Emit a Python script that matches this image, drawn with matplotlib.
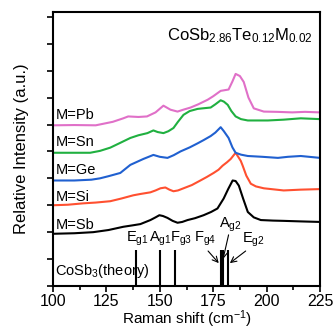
import numpy as np
import matplotlib.pyplot as plt

plt.rcParams['font.family'] = ['Liberation Sans', 'DejaVu Sans']
plt.rcParams['mathtext.default'] = 'regular'

# Raman spectra (x in cm^-1, y in offset units)
pb_x = [100, 110, 120, 128, 132.9, 135.2, 140, 144, 148, 151.7, 155, 158.3, 161, 164.4, 168, 172.4, 175, 178.5, 182.2, 184, 185.5, 187.5, 189.3, 191.5, 194, 198.7, 205, 212, 218, 225]
pb_y = [5.97, 5.98, 5.97, 6.1, 6.23, 6.3, 6.28, 6.3, 6.45, 6.7, 6.55, 6.48, 6.55, 6.63, 6.75, 6.92, 7.05, 7.25, 7.3, 7.6, 7.88, 7.8, 7.58, 7.0, 6.6, 6.48, 6.47, 6.45, 6.47, 6.45]

sn_x = [100, 110, 117.4, 122, 126.8, 131, 136.2, 140, 144.2, 147, 149, 151.7, 154, 156.4, 158.5, 161.1, 164, 167.7, 170, 173.8, 176, 178.5, 180, 181.8, 183.5, 185.5, 188, 191.2, 200.6, 208, 216, 225]
sn_y = [4.95, 4.95, 4.95, 5.02, 5.14, 5.3, 5.5, 5.6, 5.68, 5.78, 5.72, 5.68, 5.75, 5.87, 6.1, 6.36, 6.5, 6.58, 6.6, 6.63, 6.75, 6.9, 6.85, 6.73, 6.5, 6.3, 6.2, 6.15, 6.15, 6.18, 6.23, 6.2]

ge_x = [100, 110, 118, 122, 126, 131.5, 136.2, 142.3, 147, 150, 153.6, 156.5, 159.7, 164, 167.7, 170.5, 173.8, 176, 178.5, 180, 182.2, 184, 185.5, 188, 191.2, 198, 205.3, 210, 216, 225]
ge_y = [3.92, 3.92, 3.95, 4.0, 4.08, 4.2, 4.5, 4.72, 4.87, 4.8, 4.76, 4.86, 5.0, 5.15, 5.3, 5.42, 5.57, 5.7, 5.9, 5.75, 5.5, 5.15, 4.95, 4.88, 4.83, 4.8, 4.76, 4.8, 4.83, 4.76]

si_x = [100, 107, 114, 120, 126.8, 132, 137.6, 141, 145.6, 148, 150.3, 152.6, 154.5, 156.4, 158.5, 161.1, 165, 169, 172, 175.2, 177.5, 179.4, 181.5, 183.2, 184.5, 185.5, 186.7, 187.9, 188.8, 190.5, 192.6, 195, 198.7, 208, 216, 225]
si_y = [3.0, 3.02, 3.07, 3.1, 3.15, 3.25, 3.37, 3.42, 3.48, 3.55, 3.63, 3.66, 3.58, 3.52, 3.55, 3.63, 3.75, 3.92, 4.05, 4.2, 4.32, 4.47, 4.6, 4.72, 4.85, 4.95, 4.8, 4.65, 4.47, 4.1, 3.8, 3.7, 3.63, 3.55, 3.58, 3.6]

sb_x = [100, 110, 118.8, 126, 132.9, 137, 140.9, 145.6, 148, 149.8, 151.5, 153.6, 156, 158.3, 160.5, 163, 166.5, 170.5, 174, 177, 179.9, 182, 184.1, 185.5, 187, 189, 191.2, 194, 197.3, 203, 208, 216, 225]
sb_y = [1.94, 1.96, 2.0, 2.08, 2.2, 2.25, 2.3, 2.45, 2.55, 2.63, 2.6, 2.53, 2.42, 2.35, 2.38, 2.45, 2.52, 2.63, 2.75, 2.88, 3.25, 3.6, 3.92, 3.9, 3.73, 3.25, 2.75, 2.55, 2.45, 2.43, 2.42, 2.4, 2.38]

series = [
    ("M=Sb", sb_x, sb_y, "black", 2.27),
    ("M=Si", si_x, si_y, "#ff5030", 3.3),
    ("M=Ge", ge_x, ge_y, "#2060d0", 4.3),
    ("M=Sn", sn_x, sn_y, "#20b040", 5.35),
    ("M=Pb", pb_x, pb_y, "#e070c8", 6.37),
]

# CoSb3 theoretical mode positions
theory_pos = [139, 150, 157, 178.5, 179.4, 182]
theory_h = 1.35

fig = plt.figure(figsize=(3.34, 3.30), dpi=100)
ax = fig.add_axes([53/334, 44/330, 267/334, 274/330])

for name, xs, ys, col, ly in series:
    ax.plot(xs, ys, color=col, lw=1.5)
    ax.text(101.3, ly, name, fontsize=10.5, va="center", ha="left")

ax.vlines(theory_pos, 0, theory_h, color="black", lw=1.5)
ax.text(100.8, 0.55, "CoSb$_3$(theory)", fontsize=10.5, va="center", ha="left")

lab_kw = dict(fontsize=10.5, va="bottom", ha="center")
ax.text(139.6, 1.42, "E$_{g1}$", **lab_kw)
ax.text(150.3, 1.42, "A$_{g1}$", **lab_kw)
ax.text(159.9, 1.42, "F$_{g3}$", **lab_kw)
ax.text(171.0, 1.42, "F$_{g4}$", **lab_kw)
ax.text(183.0, 1.95, "A$_{g2}$", **lab_kw)
ax.text(194.0, 1.38, "E$_{g2}$", **lab_kw)

arr = dict(arrowstyle="->", lw=0.8, color="black", shrinkA=0, shrinkB=0)
ax.annotate("", xy=(177.6, 0.85), xytext=(172.6, 1.3), arrowprops=arr)
ax.annotate("", xy=(179.6, 1.0), xytext=(182.2, 1.9), arrowprops=arr)
ax.annotate("", xy=(182.8, 0.85), xytext=(190.2, 1.3), arrowprops=arr)

ax.text(187.4, 9.3, "CoSb$_{2.86}$Te$_{0.12}$M$_{0.02}$", fontsize=12,
        ha="center", va="center")

ax.set_xlim(100, 225)
ax.set_ylim(0, 10.18)
ax.set_xticks([100, 125, 150, 175, 200, 225])
ax.set_xticks(np.arange(112.5, 225, 25), minor=True)
ax.set_yticks(np.arange(0, 11, 1))
ax.set_yticklabels([])
ax.tick_params(axis="x", labelsize=11.5, length=4, width=1.2, pad=1.5)
ax.tick_params(axis="x", which="minor", length=3, width=1.2)
ax.tick_params(axis="y", length=4, width=1.2)
for s in ax.spines.values():
    s.set_linewidth(1.5)

ax.set_xlabel("Raman shift (cm$^{-1}$)", fontsize=11, labelpad=0)
ax.set_ylabel("Relative Intensity (a.u.)", fontsize=12, labelpad=10)

fig.savefig("out.png", dpi=100)
